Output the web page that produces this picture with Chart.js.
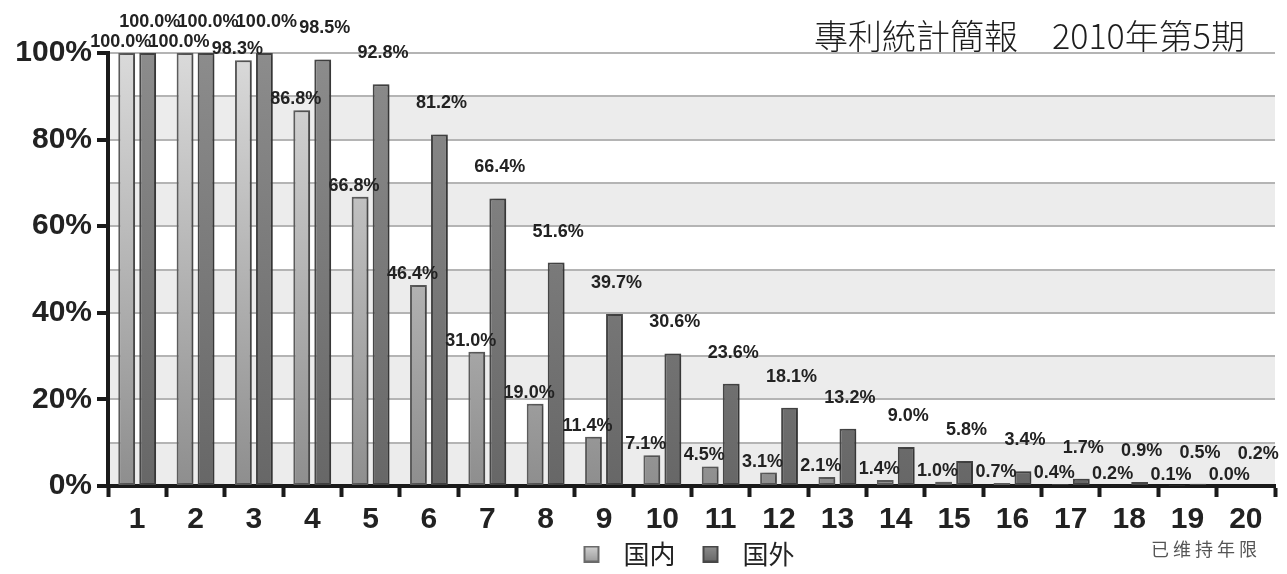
<!DOCTYPE html>
<html>
<head>
<meta charset="utf-8">
<script src="https://cdn.jsdelivr.net/npm/chart.js@4.4.1/dist/chart.umd.min.js"></script>
<style>
  html, body { margin: 0; padding: 0; background: #ffffff; }
  #wrap { width: 1287px; height: 574px; }
</style>
</head>
<body>
<div id="wrap"><canvas id="c" width="1287" height="574"></canvas></div>
<script>
// ---- data ----
const categories = ['1','2','3','4','5','6','7','8','9','10','11','12','13','14','15','16','17','18','19','20'];
const domestic = [100.0, 100.0, 98.3, 86.8, 66.8, 46.4, 31.0, 19.0, 11.4, 7.1, 4.5, 3.1, 2.1, 1.4, 1.0, 0.7, 0.4, 0.2, 0.1, 0.0];
const foreign  = [100.0, 100.0, 100.0, 98.5, 92.8, 81.2, 66.4, 51.6, 39.7, 30.6, 23.6, 18.1, 13.2, 9.0, 5.8, 3.4, 1.7, 0.9, 0.5, 0.2];
const seriesNames = ['国内', '国外'];
const yTicks = [0, 20, 40, 60, 80, 100];
const titleText = '專利統計簡報　2010年第5期';
const xAxisTitle = '已维持年限';

const LATIN = "'Liberation Sans', Arial, Helvetica, sans-serif";
const CJK = "'Noto Sans CJK SC', 'Noto Sans CJK TC', sans-serif";

function vGrad(chart, top, bottom) {
  const a = chart.chartArea;
  if (!a) return top;
  const g = chart.ctx.createLinearGradient(0, a.top, 0, a.bottom);
  g.addColorStop(0, top);
  g.addColorStop(1, bottom);
  return g;
}

// legend swatch: a 16px box with blank margins left/right inside a wider canvas
function legendSwatch(fillTop, fillBottom, stroke) {
  const cv = document.createElement('canvas');
  cv.width = 52; cv.height = 17;
  const c = cv.getContext('2d');
  const g = c.createLinearGradient(0, 0, 0, 17);
  g.addColorStop(0, fillTop);
  g.addColorStop(1, fillBottom);
  c.fillStyle = g;
  c.fillRect(25, 0, 16, 17);
  c.strokeStyle = stroke;
  c.lineWidth = 2;
  c.strokeRect(26, 1, 14, 15);
  return cv;
}

const bandsPlugin = {
  id: 'bands',
  beforeDraw(chart) {
    const {ctx, chartArea: a, scales: {y}} = chart;
    ctx.save();
    ctx.fillStyle = '#ececec';
    for (let v = 0; v < 100; v += 20) {
      const y0 = y.getPixelForValue(v + 10), y1 = y.getPixelForValue(v);
      ctx.fillRect(a.left, y0, a.right - a.left, y1 - y0);
    }
    ctx.restore();
  }
};

const shadowPlugin = {
  id: 'barShadow',
  beforeDatasetDraw(chart) {
    const ctx = chart.ctx;
    ctx.save();
    ctx.shadowColor = 'rgba(0,0,0,0.28)';
    ctx.shadowOffsetX = 3;
    ctx.shadowOffsetY = 0;
    ctx.shadowBlur = 4;
  },
  afterDatasetDraw(chart) { chart.ctx.restore(); }
};

const labelPlugin = {
  id: 'valueLabels',
  afterDatasetsDraw(chart) {
    const ctx = chart.ctx;
    const offs = [{dx: -6, dy: 11}, {dx: 2, dy: 31}];
    ctx.save();
    ctx.font = 'bold 18px ' + LATIN;
    ctx.fillStyle = '#222';
    ctx.textAlign = 'center';
    ctx.textBaseline = 'middle';
    chart.data.datasets.forEach((ds, i) => {
      const meta = chart.getDatasetMeta(i);
      meta.data.forEach((bar, j) => {
        const v = ds.data[j];
        ctx.fillText(v.toFixed(1) + '%', bar.x + offs[i].dx, bar.y - offs[i].dy);
      });
    });
    ctx.restore();
  }
};

const textPlugin = {
  id: 'extraText',
  afterDraw(chart) {
    const ctx = chart.ctx;
    const a = chart.chartArea;
    ctx.save();
    ctx.fillStyle = '#1e1e1e';
    ctx.font = '300 34px ' + "'Noto Sans CJK TC', 'Noto Sans CJK SC', sans-serif";
    ctx.textAlign = 'right';
    ctx.textBaseline = 'middle';
    ctx.fillText(titleText, 1245, 36);
    ctx.fillStyle = '#555';
    ctx.font = '18px ' + CJK;
    ctx.textAlign = 'right';
    try { ctx.letterSpacing = '4px'; } catch (e) {}
    ctx.fillText(xAxisTitle, a.right - 14, 549);
    ctx.restore();
  }
};

// nudge the legend block slightly left so it sits where the reference has it
const legendShift = {
  id: 'legendShift',
  afterLayout(chart) {
    const l = chart.legend;
    if (l) { l.left -= 15; l.right -= 15; }
  }
};

const swatches = [
  legendSwatch('#d4d4d4', '#9a9a9a', '#6a6a6a'),
  legendSwatch('#8e8e8e', '#666666', '#474747')
];

new Chart(document.getElementById('c'), {
  type: 'bar',
  data: {
    labels: categories,
    datasets: [
      {
        label: seriesNames[0],
        data: domestic,
        backgroundColor: (c) => vGrad(c.chart, '#dadada', '#8e8e8e'),
        borderColor: '#5c5c5c',
        borderWidth: 2,
        borderSkipped: false,
        barPercentage: 0.8,
        categoryPercentage: 0.72
      },
      {
        label: seriesNames[1],
        data: foreign,
        backgroundColor: (c) => vGrad(c.chart, '#8c8c8c', '#676767'),
        borderColor: '#464646',
        borderWidth: 2,
        borderSkipped: false,
        barPercentage: 0.8,
        categoryPercentage: 0.72
      }
    ]
  },
  options: {
    responsive: false,
    devicePixelRatio: 1,
    animation: false,
    layout: { padding: { top: 53, right: 12, left: 0, bottom: -3 } },
    plugins: {
      title: { display: false },
      tooltip: { enabled: false },
      legend: {
        position: 'bottom',
        fullSize: false,
        labels: {
          usePointStyle: true,
          pointStyleWidth: 52,
          boxHeight: 17,
          padding: 2,
          color: '#222',
          font: { family: CJK, size: 26 },
          generateLabels(chart) {
            return chart.data.datasets.map((ds, i) => ({
              text: ds.label,
              pointStyle: swatches[i],
              fillStyle: 'rgba(0,0,0,0)',
              strokeStyle: 'rgba(0,0,0,0)',
              lineWidth: 0,
              hidden: false,
              datasetIndex: i,
              fontColor: '#222'
            }));
          }
        }
      }
    },
    scales: {
      x: {
        afterFit(s) { s.height = 53; },
        grid: {
          offset: true,
          drawOnChartArea: false,
          drawTicks: true,
          tickLength: 11,
          tickWidth: 4,
          tickColor: '#1a1a1a'
        },
        border: { display: true, color: '#1a1a1a', width: 4 },
        ticks: {
          color: '#222',
          padding: 5,
          font: { family: LATIN, size: 30, weight: 'bold' },
          maxRotation: 0,
          autoSkip: false
        }
      },
      y: {
        min: 0,
        max: 100,
        afterFit(s) { s.width = 108; },
        grid: {
          color: '#b4b4b4',
          lineWidth: 2,
          tickLength: 11,
          tickWidth: 4,
          tickColor: (c) => (c.tick && yTicks.includes(c.tick.value)) ? '#1a1a1a' : 'rgba(0,0,0,0)'
        },
        border: { display: true, color: '#1a1a1a', width: 4 },
        ticks: {
          stepSize: 10,
          padding: 5,
          color: '#222',
          font: { family: LATIN, size: 30, weight: 'bold' },
          callback: (v) => yTicks.includes(v) ? v + '%' : ''
        }
      }
    }
  },
  plugins: [bandsPlugin, shadowPlugin, labelPlugin, textPlugin, legendShift]
});
</script>
</body>
</html>
